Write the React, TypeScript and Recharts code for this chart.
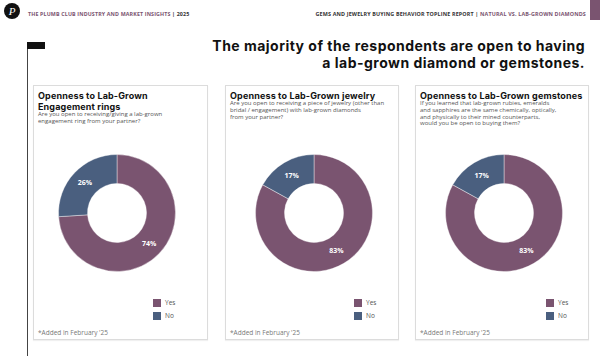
import React from 'react';
import { PieChart, Pie, Cell, Legend } from 'recharts';

const answers = ['Yes', 'No'];
const engagementValues = [74, 26];
const jewelryValues = [83, 17];
const gemstoneValues = [83, 17];

const panelTitles = [
  ['Openness to Lab-Grown', 'Engagement rings'],
  ['Openness to Lab-Grown jewelry'],
  ['Openness to Lab-Grown gemstones'],
];
const panelQuestions = [
  ['Are you open to receiving/giving a lab-grown', 'engagement ring from your partner?'],
  ['Are you open to receiving a piece of jewelry (other than', 'bridal / engagement) with lab-grown diamonds', 'from your partner?'],
  ['If you learned that lab-grown rubies, emeralds', 'and sapphires are the same chemically, optically,', 'and physically to their mined counterparts,', 'would you be open to buying them?'],
];
const footnote = "*Added in February '25";
const headline = ['The majority of the respondents are open to having', 'a lab-grown diamond or gemstones.'];

const PURPLE = '#7a5470';
const BLUE = '#4a5f7f';
const COLORS = [PURPLE, BLUE];
const FONT = '"Open Sans", Lato, sans-serif';
const HFONT = 'Inter, "Open Sans", sans-serif';

const toData = (vals: number[]) => answers.map((name, i) => ({ name, value: vals[i] }));

const renderLabel = (p: any) => {
  const RAD = Math.PI / 180;
  const r = (p.innerRadius + p.outerRadius) / 2;
  const x = p.cx + r * Math.cos(-p.midAngle * RAD);
  const y = p.cy + r * Math.sin(-p.midAngle * RAD);
  return (
    <text x={x} y={y} fill="#ffffff" fontSize={7} fontWeight={700} textAnchor="middle" dominantBaseline="central" fontFamily={FONT}>
      {`${p.value}%`}
    </text>
  );
};

type PanelProps = {
  left: number;
  width: number;
  idx: number;
  values: number[];
  cx: number;
  legendLeft: number;
};

const TOP = 85;
const HEIGHT = 255;

function Panel({ left, width, idx, values, cx, legendLeft }: PanelProps) {
  const data = toData(values);
  const qTop = panelTitles[idx].length > 1 ? 25 : 14;
  return (
    <div
      style={{
        position: 'absolute',
        left,
        top: TOP,
        width,
        height: HEIGHT,
        boxSizing: 'border-box',
        border: '1px solid #dcdcdc',
        boxShadow: '0 1px 1px rgba(0,0,0,0.06)',
        background: '#fff',
        fontFamily: FONT,
      }}
    >
      <div style={{ position: 'absolute', left: 4, top: 3.5, fontSize: 9, fontWeight: 700, lineHeight: '11px', letterSpacing: 0.15, color: '#111', whiteSpace: 'nowrap', fontFamily: HFONT }}>
        {panelTitles[idx].map((t) => (
          <div key={t}>{t}</div>
        ))}
      </div>
      <div style={{ position: 'absolute', left: 4, top: qTop, fontSize: 6, lineHeight: '6.8px', color: '#555', whiteSpace: 'nowrap' }}>
        {panelQuestions[idx].map((t) => (
          <div key={t}>{t}</div>
        ))}
      </div>
      <div style={{ position: 'absolute', left: 4, top: 242, fontSize: 6.5, color: '#777', whiteSpace: 'nowrap' }}>{footnote}</div>
      <div style={{ position: 'absolute', left: 0, top: 0 }}>
        <PieChart width={width - 2} height={HEIGHT - 2} margin={{ top: 0, right: 0, bottom: 0, left: 0 }}>
          <Pie
            data={data}
            dataKey="value"
            nameKey="name"
            cx={cx}
            cy={127}
            innerRadius={29.5}
            outerRadius={58.5}
            startAngle={90}
            endAngle={-270}
            stroke="#ffffff"
            strokeWidth={0.4}
            label={renderLabel}
            labelLine={false}
            isAnimationActive={false}
          >
            {data.map((d, i) => (
              <Cell key={d.name} fill={COLORS[i]} />
            ))}
          </Pie>
          <Legend
            layout="vertical"
            align="right"
            verticalAlign="top"
            iconType="square"
            iconSize={8}
            itemSorter={null as any}
            wrapperStyle={{ position: 'absolute', left: legendLeft, right: 'auto', top: 210, width: 'auto', fontSize: 6.5, lineHeight: '13px', fontFamily: FONT }}
            formatter={(v: string) => <span style={{ color: '#555' }}>{v}</span>}
          />
        </PieChart>
      </div>
    </div>
  );
}

export default function App() {
  return (
    <div style={{ position: 'absolute', left: 0, top: 0, width: 600, height: 360, background: '#fff', overflow: 'hidden', fontFamily: FONT }}>
      <div style={{ position: 'absolute', left: 4, top: 3, width: 16, height: 16, borderRadius: 8, background: '#111', color: '#fff', fontSize: 11, fontStyle: 'italic', fontFamily: 'serif', textAlign: 'center', lineHeight: '16px' }}>P</div>
      <div style={{ position: 'absolute', left: 28, top: 10, fontSize: 5.3, fontWeight: 700, color: '#7a5470', whiteSpace: 'nowrap', letterSpacing: 0.15 }}>
        THE PLUMB CLUB INDUSTRY AND MARKET INSIGHTS <span style={{ color: '#333' }}>| 2025</span>
      </div>
      <div style={{ position: 'absolute', right: 14, top: 10, fontSize: 5.4, fontWeight: 700, color: '#333', whiteSpace: 'nowrap', letterSpacing: 0.15 }}>
        GEMS AND JEWELRY BUYING BEHAVIOR TOPLINE REPORT | <span style={{ color: '#7a5470' }}>NATURAL VS. LAB-GROWN DIAMONDS</span>
      </div>
      <div style={{ position: 'absolute', left: 590, top: 0, width: 10, height: 20, background: PURPLE }} />
      <div style={{ position: 'absolute', left: 27, top: 44, width: 1, height: 312, background: '#444' }} />
      <div style={{ position: 'absolute', left: 27, top: 42, width: 18, height: 7, background: '#111' }} />
      <div style={{ position: 'absolute', right: 15, top: 37, fontSize: 14, fontWeight: 700, lineHeight: '17px', letterSpacing: 0.48, color: '#111', textAlign: 'right', whiteSpace: 'nowrap', fontFamily: HFONT }}>
        {headline.map((t) => (
          <div key={t}>{t}</div>
        ))}
      </div>
      <Panel left={33} width={175} idx={0} values={engagementValues} cx={83} legendLeft={119} />
      <Panel left={225} width={174} idx={1} values={jewelryValues} cx={88} legendLeft={128} />
      <Panel left={415} width={174} idx={2} values={gemstoneValues} cx={88} legendLeft={130} />
    </div>
  );
}
